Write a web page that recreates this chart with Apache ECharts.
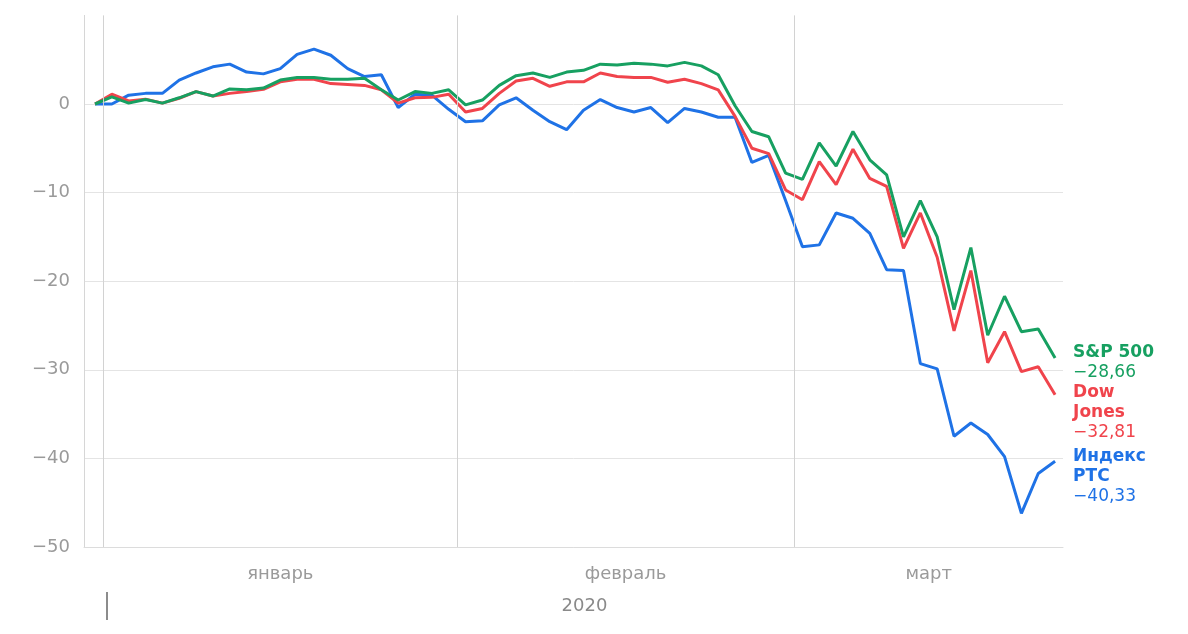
<!DOCTYPE html>
<html lang="ru" style="height: 100%;background-color:#ffffff">
<head>
    <meta charset="UTF-8">
    <title>Индексы 2020</title>
    <script src="https://cdn.jsdelivr.net/npm/echarts@6/dist/echarts.min.js"></script>
</head>
<body style="height: 100%;margin:0;">
<div id="main" style="width:1188px;height:634px;"></div>
<script>
    // % change since 31 Dec 2019, one value per trading day
    var rtsValues = [0, 0, 1.0, 1.2, 1.2, 2.7, 3.5, 4.2, 4.5, 3.6, 3.4, 4.0, 5.6, 6.2, 5.5, 4.0, 3.1, 3.3, -0.4, 1.1,
        1.0, -0.6, -2.0, -1.9, -0.1, 0.7, -0.7, -2.0, -2.9, -0.7, 0.5, -0.4, -0.9, -0.4, -2.1, -0.5, -0.9, -1.5, -1.5, -6.6,
        -5.8, -10.9, -16.1, -15.9, -12.3, -12.9, -14.6, -18.7, -18.8, -29.3, -29.9, -37.5, -36.0, -37.3, -39.8, -46.2, -41.7, -40.33];
    var dowValues = [0, 1.1, 0.35, 0.55, 0.1, 0.65, 1.4, 0.9, 1.2, 1.4, 1.65, 2.5, 2.8, 2.8, 2.3, 2.2, 2.1, 1.6, 0.1, 0.7,
        0.75, 1.1, -0.9, -0.5, 1.2, 2.6, 2.9, 2.0, 2.5, 2.5, 3.5, 3.1, 3.0, 3.0, 2.45, 2.8, 2.3, 1.6, -1.4, -5.0,
        -5.6, -9.7, -10.8, -6.5, -9.1, -5.1, -8.4, -9.3, -16.3, -12.3, -17.3, -25.6, -18.8, -29.2, -25.7, -30.2, -29.65, -32.81];
    var spValues = [0, 0.8, 0.1, 0.5, 0.1, 0.7, 1.4, 0.9, 1.7, 1.6, 1.8, 2.7, 3.0, 3.0, 2.8, 2.8, 2.9, 1.6, 0.45, 1.4,
        1.2, 1.6, -0.1, 0.45, 2.1, 3.2, 3.5, 3.0, 3.6, 3.8, 4.5, 4.4, 4.6, 4.5, 4.3, 4.7, 4.3, 3.3, -0.2, -3.1,
        -3.7, -7.8, -8.5, -4.4, -7.0, -3.1, -6.3, -8.0, -15.0, -10.9, -15.0, -23.2, -16.2, -26.1, -21.7, -25.7, -25.4, -28.66];

    var monthNames = ['январь', 'февраль', 'март'];
    var monthMiddles = [11, 31.5, 49.5];
    var monthEdges = [0.5, 21.5, 41.5];
    var yearLabel = '2020';

    var seriesNames = ['Индекс РТС', 'Dow Jones', 'S&P 500'];
    var labelLines = [['Индекс', 'РТС'], ['Dow', 'Jones'], ['S&P 500']];

    function toPairs(arr) {
        return arr.map(function (v, i) { return [i, v]; });
    }
    function fmt(v) {
        var s = Math.abs(v).toFixed(2).replace('.', ',');
        return (v < 0 ? '\u2212' : '') + s;
    }
    function makeLine(idx, values, color, dy) {
        return {
            name: seriesNames[idx],
            type: 'line',
            data: toPairs(values),
            symbol: 'none',
            silent: true,
            lineStyle: {color: color, width: 3},
            itemStyle: {color: color},
            endLabel: {
                show: true,
                distance: 18,
                offset: [0, dy],
                formatter: function (p) {
                    var parts = labelLines[idx].map(function (t) { return '{n|' + t + '}'; });
                    parts.push('{v|' + fmt(p.value[1]) + '}');
                    return parts.join('\n');
                },
                rich: {
                    n: {color: color, fontWeight: 'bold', fontSize: 17, lineHeight: 20, fontFamily: 'DejaVu Sans'},
                    v: {color: color, fontSize: 17, lineHeight: 20, fontFamily: 'DejaVu Sans'}
                }
            }
        };
    }

    var chart = echarts.init(document.getElementById('main'));

    var rtsSeries = makeLine(0, rtsValues, '#1f72e6', 15);
    rtsSeries.markLine = {
        silent: true,
        symbol: 'none',
        label: {show: false},
        lineStyle: {color: '#d2d2d2', type: 'solid', width: 1},
        data: monthEdges.map(function (x) { return {xAxis: x}; })
    };

    var option = {
        backgroundColor: '#ffffff',
        animation: false,
        textStyle: {fontFamily: 'DejaVu Sans'},
        grid: {left: 84, right: 125, top: 15.4, bottom: 87},
        xAxis: {
            type: 'value',
            min: -0.653,
            max: 57.47,
            axisLine: {show: true, onZero: false, lineStyle: {color: '#dcdcdc', width: 1}},
            axisTick: {show: false},
            splitLine: {show: false},
            axisLabel: {
                customValues: monthMiddles,
                margin: 18,
                color: '#9a9a9a',
                fontSize: 18,
                formatter: function (v) {
                    var k = monthMiddles.indexOf(v);
                    return k >= 0 ? monthNames[k] : '';
                }
            },
            name: yearLabel,
            nameLocation: 'middle',
            nameGap: 50,
            nameTextStyle: {color: '#8a8a8a', fontSize: 18, padding: [0, 0, 0, 22]}
        },
        yAxis: {
            type: 'value',
            min: -50,
            max: 10,
            interval: 10,
            axisLine: {show: true, onZero: false, lineStyle: {color: '#d6d6d6', width: 1}},
            axisTick: {show: false},
            axisLabel: {
                margin: 14,
                color: '#9a9a9a',
                fontSize: 18,
                formatter: function (v) {
                    if (v > 0) return '';
                    return v < 0 ? '\u2212' + Math.abs(v) : String(v);
                }
            },
            splitLine: {
                lineStyle: {
                    color: ['#e4e4e4', '#e4e4e4', '#e4e4e4', '#e4e4e4', '#e4e4e4', '#e4e4e4', 'rgba(0,0,0,0)'],
                    width: 1
                }
            }
        },
        graphic: [{
            type: 'line',
            shape: {x1: 107, y1: 592, x2: 107, y2: 620},
            style: {stroke: '#666666', lineWidth: 1.5},
            silent: true
        }],
        series: [
            rtsSeries,
            makeLine(1, dowValues, '#f0444c', 18),
            makeLine(2, spValues, '#17a061', 5)
        ]
    };

    chart.setOption(option);
    window.onresize = function () {
        chart.resize();
    };
</script>
</body>
</html>
